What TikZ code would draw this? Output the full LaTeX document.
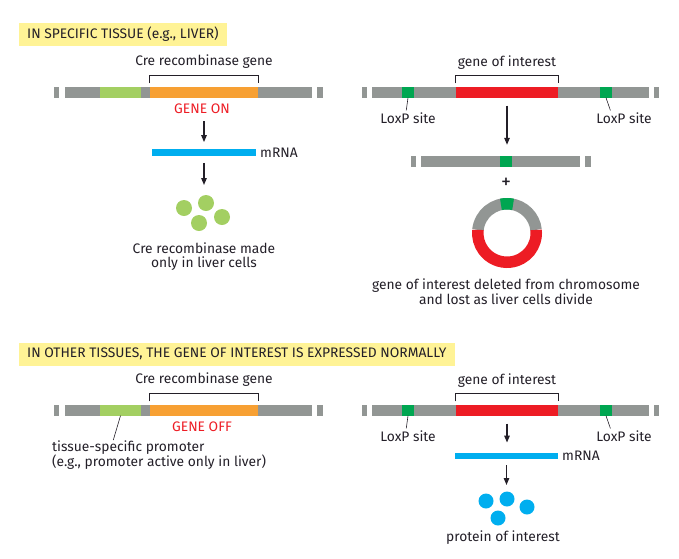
\documentclass[tikz,border=0pt]{standalone}
\usepackage{fontspec}
\setmainfont{Fira Sans}
\usetikzlibrary{arrows.meta}
\definecolor{ink}{RGB}{35,31,40}
\definecolor{dnagray}{RGB}{146,150,148}
\definecolor{promgreen}{RGB}{163,207,98}
\definecolor{creorange}{RGB}{247,160,51}
\definecolor{genered}{RGB}{237,28,36}
\definecolor{loxgreen}{RGB}{0,166,81}
\definecolor{rnablue}{RGB}{0,174,239}
\definecolor{banner}{RGB}{255,243,150}
\tikzset{
  lbl/.style={font=\fontsize{13.8}{14.8}\selectfont, text=ink, inner sep=0pt},
  seg/.style={fill=#1, inner sep=0pt, minimum height=11pt},
  rna/.style={fill=rnablue, inner sep=0pt, minimum height=6.5pt},
  flow/.style={-{Triangle[length=7pt,width=5.5pt]}, line width=1.3pt, draw=ink},
  lead/.style={draw=ink, line width=0.6pt},
  brk/.style={draw=ink, line width=1pt},
  head/.style={lbl, fill=banner, anchor=west, inner xsep=8pt, minimum height=23pt},
}
\begin{document}
\begin{tikzpicture}[x=1pt,y=-1pt]
\useasboundingbox (0,0) rectangle (679,558);
\node[head] (top) at (19,34.5) {IN SPECIFIC TISSUE (e.g., LIVER)};
\node[head] (bottom) at (19,354) {IN OTHER TISSUES, THE GENE OF INTEREST IS EXPRESSED NORMALLY};
\foreach \y/\r/\st in {92/1/ON,410/2/OFF}{
  % Cre transgene
  \fill[dnagray] (54,\y-5.5) rectangle (59,\y+5.5);
  \fill[dnagray] (65,\y-5.5) rectangle (312,\y+5.5);
  \fill[dnagray] (317,\y-5.5) rectangle (323,\y+5.5);
  \node[seg=promgreen, minimum width=41pt] (prom\r) at (120.5,\y) {};
  \node[seg=creorange, minimum width=108pt] (cre\r) at (204,\y) {};
  \draw[brk] ([yshift=3pt]cre\r.north west) -- ++(0,-8) -| ([yshift=3pt]cre\r.north east);
  \node[lbl] (crelab\r) at (204,\y-30) {Cre recombinase gene};
  \node[lbl, text=genered] (state\r) at (202,\y+17) {GENE \st};
  % floxed gene
  \fill[dnagray] (362,\y-5.5) rectangle (367,\y+5.5);
  \fill[dnagray] (372,\y-5.5) rectangle (649,\y+5.5);
  \fill[dnagray] (654,\y-5.5) rectangle (659,\y+5.5);
  \node[seg=loxgreen, minimum width=12pt] (loxa\r) at (408,\y) {};
  \node[seg=loxgreen, minimum width=12pt] (loxb\r) at (606,\y) {};
  \node[seg=genered, minimum width=102pt] (goi\r) at (507,\y) {};
  \draw[brk] ([yshift=3pt]goi\r.north west) -- ++(0,-8) -| ([yshift=3pt]goi\r.north east);
  \node[lbl] (goilab\r) at (507,\y-29.5) {gene of interest};
  \node[lbl] (laba\r) at (408,\y+26) {LoxP site};
  \node[lbl] (labb\r) at (624,\y+26) {LoxP site};
  \draw[lead, shorten >=2pt] (loxa\r.south) -- ([xshift=-2pt]laba\r.north);
  \draw[lead, shorten >=2pt] (loxb\r.south) -- ([xshift=15pt]labb\r.north west);
}
% Cre expressed in liver
\node[rna, minimum width=104pt] (rna1) at (204,152.5) {};
\node[lbl, anchor=west] (rnalab1) at (260,152.5) {mRNA};
\draw[flow, shorten <=7pt, shorten >=7pt] (state1.south -| rna1.north) -- (rna1.north);
\foreach \p/\q [count=\i] in {184/208,206/203,222/217,199/223}
  \fill[promgreen] (\p,\q) circle (8);
\node[lbl, align=center] (made) at (204,256.5) {Cre recombinase made\\only in liver cells};
\draw[flow, shorten <=7pt, shorten >=10pt] (rna1.south) -- (rna1.south |- 204,195);
% excision
\fill[dnagray] (411,156) rectangle (416,167);
\fill[dnagray] (421,156) rectangle (580,167);
\fill[dnagray] (585,156) rectangle (591,167);
\node[seg=loxgreen, minimum width=12pt] (loxc) at (506,161.5) {};
\draw[flow, shorten <=8pt, shorten >=11pt] (goi1.south) -- (goi1.south |- loxc.north);
\node[lbl, font=\fontsize{20}{20}\selectfont] (plus) at (506,183) {+};
\coordinate (ring) at (507,233);
\draw[dnagray, line width=11.5pt] (ring) ++(186:29.25) arc[start angle=186, end angle=354, radius=29.25];
\draw[genered, line width=11.5pt] (ring) ++(-6:29.25) arc[start angle=-6, end angle=186, radius=29.25];
\draw[loxgreen, line width=11.5pt] (ring) ++(258:29.25) arc[start angle=258, end angle=282, radius=29.25];
\node[lbl, align=center] (lost) at (506,291.5) {gene of interest deleted from chromosome\\and lost as liver cells divide};
% other tissues
\node[lbl, align=left, anchor=north west] (promlab) at (52,441) {tissue-specific promoter\\(e.g., promoter active only in liver)};
\draw[lead, shorten >=1pt] (prom2.south) -- ([xshift=61pt]promlab.north west);
\node[rna, minimum width=103pt] (rna2) at (506.5,456) {};
\node[lbl, anchor=west] (rnalab2) at (562,456) {mRNA};
\draw[flow, shorten <=8pt, shorten >=10pt] (goi2.south) -- (goi2.south |- rna2.north);
\foreach \p/\q in {486/501,507/499,527/507,498/518}
  \fill[rnablue] (\p,\q) circle (7.5);
\draw[flow, shorten <=6pt, shorten >=6pt] (rna2.south) -- (rna2.south |- 507,491);
\node[lbl] (protein) at (503,538) {protein of interest};
\end{tikzpicture}
\end{document}
